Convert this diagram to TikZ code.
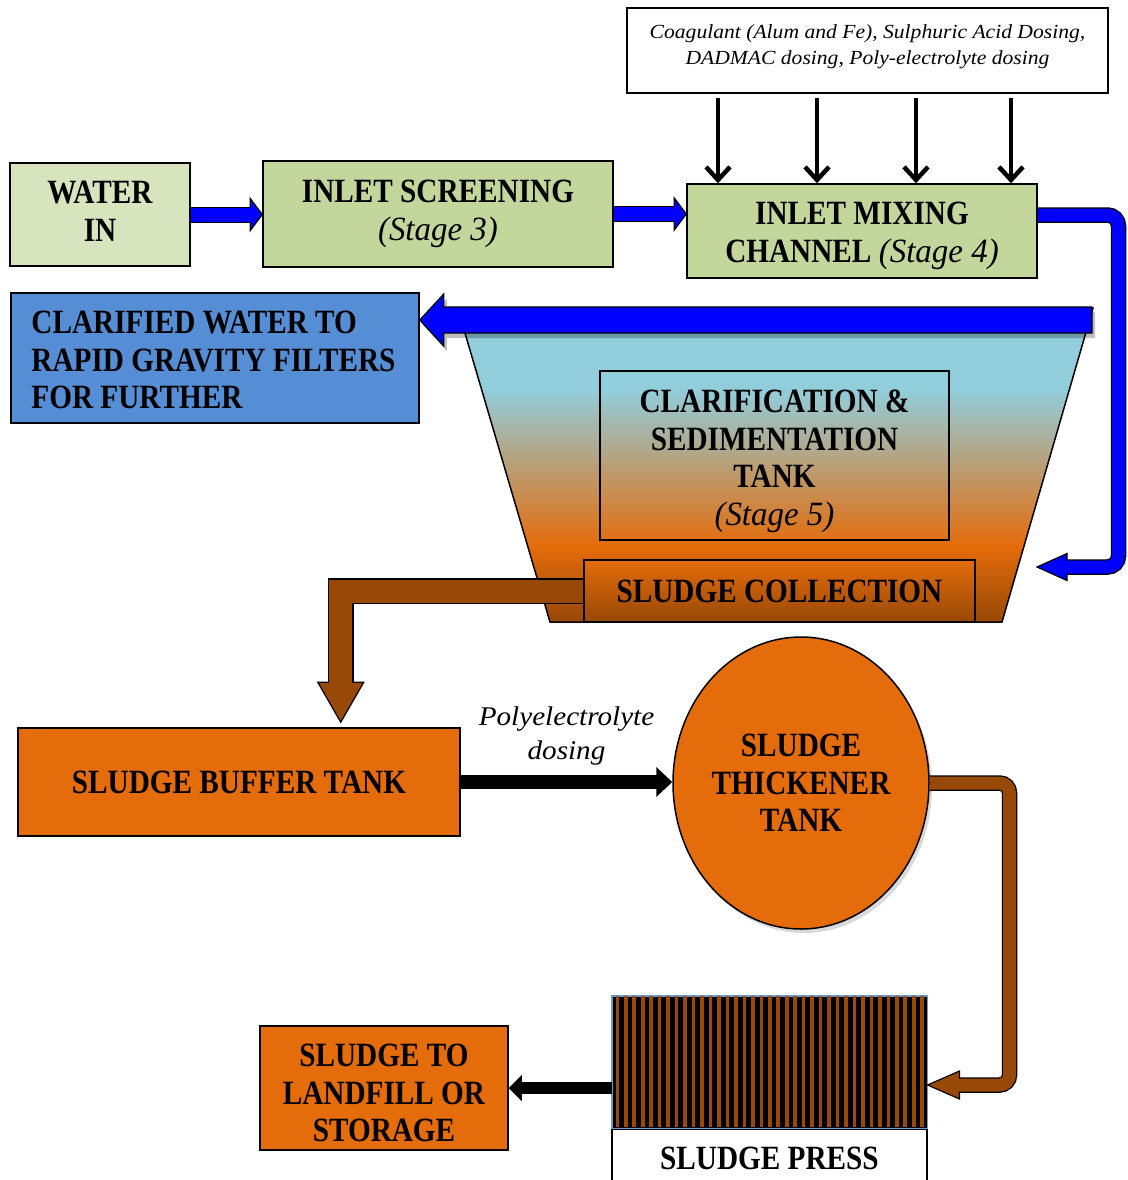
\documentclass[tikz,border=0pt]{standalone}
\usepackage{fontspec}
\setmainfont{Liberation Serif}
\newfontfamily\hb{Liberation Serif}[FakeStretch=0.86]
\newfontfamily\hi{Liberation Serif}[FakeStretch=0.97]
\newfontfamily\li{Liberation Serif}[FakeStretch=1.08]
\usetikzlibrary{arrows.meta,calc,shapes.geometric,shadows}
\definecolor{gA}{HTML}{D7E4BD}
\definecolor{gB}{HTML}{C3D69B}
\definecolor{bbox}{HTML}{558ED5}
\definecolor{org}{HTML}{E46C0A}
\definecolor{brn}{HTML}{984807}
\definecolor{pblue}{HTML}{0000FF}
\definecolor{tblue}{HTML}{92CDDC}
\definecolor{pressb}{HTML}{6C9BD2}
\pgfdeclareverticalshading{tankshade}{100bp}{color(0bp)=(brn); color(25bp)=(brn); color(37bp)=(org); color(62bp)=(tblue); color(100bp)=(tblue)}
\newcommand\HB{\hb\bfseries\fontsize{34}{37.5}\selectfont}
\newcommand\HI{\hi\mdseries\itshape}
\tikzset{
  box/.style={draw=black, line width=1.5pt, inner sep=0pt, align=center, font=\HB},
  txt/.style={inner sep=0pt, align=center, font=\HB},
  thin/.style={draw=black, line width=1.2pt, line join=miter},
}
\begin{document}
\begin{tikzpicture}[x=1pt,y=-1pt]
\useasboundingbox (0,0) rectangle (1127,1180);
\clip (0,0) rectangle (1127,1180);

% dosing box
\node[draw=black, line width=1.2pt, minimum width=481pt, minimum height=85pt, inner sep=0pt] (dose) at (867.5,50.5) {};
\node[font=\li\itshape\fontsize{20}{26}\selectfont, align=center, inner sep=0pt] (dosetxt) at ([yshift=4pt]dose.center) {Coagulant (Alum and Fe), Sulphuric Acid Dosing,\\DADMAC dosing, Poly-electrolyte dosing};

% top row
\node[box, fill=gA, minimum width=180pt, minimum height=103pt] (win) at (100,214.5) {};
\node[txt] (wintxt) at ([yshift=3pt]win.center) {WATER\\IN};
\node[box, fill=gB, minimum width=350pt, minimum height=106pt] (scr) at (438,214) {INLET SCREENING\\{\HI (Stage 3)}};
\node[box, fill=gB, minimum width=350pt, minimum height=94pt] (mix) at (862,231) {};
\node[txt] (mixtxt) at ([yshift=-5pt]mix.center) {INLET MIXING\\CHANNEL {\HI(Stage 4)}};

\foreach \dx in {-149.5,-50.5,48.5,143.5}
  \draw[line width=4.5pt, -{Straight Barb[length=13pt, width=24pt]}] ([xshift=\dx pt, yshift=-4pt]dose.south) coordinate (s) -- (s |- mix.north);

% small blue arrows
\draw[black, line width=16pt] (win.east) -- ($(win.east -| scr.west)+(-12,0)$);
\filldraw[thin, fill=pblue] (win.east -| scr.west) -- ++(-12,-16) -- ++(0,32) -- cycle;
\draw[pblue, line width=14pt] (win.east) -- ($(win.east -| scr.west)+(-10,0)$);

\draw[black, line width=16pt] (scr.east) -- ($(scr.east -| mix.west)+(-12,0)$);
\filldraw[thin, fill=pblue] (scr.east -| mix.west) -- ++(-12,-16) -- ++(0,32) -- cycle;
\draw[pblue, line width=14pt] (scr.east) -- ($(scr.east -| mix.west)+(-10,0)$);

% tank
\shadedraw[shading=tankshade, draw=black, line width=1.5pt] (457.6,308) -- (1093,308) -- (1002,622) -- (550,622) -- cycle;

% clarified water box
\node[box, fill=bbox, minimum width=408pt, minimum height=130pt] (clw) at (215,358) {};
\node[font=\HB, align=left, anchor=west, inner sep=0pt] (clwtxt) at ([xshift=21pt, yshift=-2pt]clw.west) {CLARIFIED WATER TO\\RAPID GRAVITY FILTERS\\FOR FURTHER};

% big blue arrow
\coordinate (bT) at ([yshift=38pt]clw.east);
\fill[black, opacity=0.25] ($(bT)+(3,5)$) -- ++(24,-26) -- ++(0,13) -- ($(1092,307)+(3,5)$) -- ++(0,26) -- ($(bT)+(27,18)$) -- ++(0,13) -- cycle;
\filldraw[thin, fill=pblue] (bT) -- ++(24,-26) -- ++(0,13) -- (1092,307) -- (1092,333) -- ($(bT)+(24,13)$) -- ++(0,13) -- cycle;

% right blue pipe
\coordinate (bin) at (1037,567);
\draw[black, line width=15.5pt, rounded corners=11pt] ([yshift=16pt]mix.east) -- (1118.5,215) -- (1118.5,567) -- ($(bin)+(30,0)$);
\filldraw[thin, fill=pblue] (bin) -- ++(30,-13.5) -- ++(0,27) -- cycle;
\draw[pblue, line width=13pt, rounded corners=11pt] ([yshift=16pt]mix.east) -- (1118.5,215) -- (1118.5,567) -- ($(bin)+(28,0)$);

% clarification box
\node[draw=black, line width=1.5pt, minimum width=349pt, minimum height=169pt, inner sep=0pt] (clar) at (774.5,455.5) {};
\node[txt] (clartxt) at ([yshift=-6pt]clar.center) {CLARIFICATION \&\\SEDIMENTATION\\TANK\\{\HI(Stage 5)}};

% sludge collection
\node[box, top color=org, bottom color=brn, minimum width=391pt, minimum height=62pt] (sc) at (779.5,591) {SLUDGE COLLECTION};

% buffer tank
\node[box, fill=org, minimum width=442pt, minimum height=108pt] (buf) at (239,782) {SLUDGE BUFFER TANK};

% brown pipe sc -> buf
\coordinate (bt) at ($(buf.north west)+(323.5,-5)$);
\draw[black, line width=25.5pt, line join=miter] (sc.west) -| ($(bt)+(0,-40)$);
\filldraw[thin, fill=brn] (bt) -- ++(-23,-40) -- ++(46,0) -- cycle;
\draw[brn, line width=23pt, line join=miter] (sc.west) -| ($(bt)+(0,-37)$);

% thickener
\node[ellipse, draw=black, line width=1.5pt, fill=org, minimum width=256pt, minimum height=292pt, inner sep=0pt, align=center, font=\HB, drop shadow={shadow xshift=3pt, shadow yshift=-4pt, opacity=0.3}] (thk) at (801,783) {SLUDGE\\THICKENER\\TANK};

% black arrow buf -> thk
\draw[black, line width=14pt] (buf.east) -- ($(buf.east -| thk.west)+(-15,0)$);
\fill[black] (buf.east -| thk.west) -- ++(-16,-15) -- ++(0,30) -- cycle;
\node[font=\li\itshape\fontsize{27}{34}\selectfont, align=center, inner sep=0pt] (poly) at ($(buf.east)!0.5!(thk.west)+(0,-47)$) {Polyelectrolyte\\dosing};

% sludge press
\node[draw=pressb, line width=1pt, fill=black, minimum width=315pt, minimum height=132pt, inner sep=0pt] (press) at (769.5,1062) {};
\foreach \i in {0,...,36}
  \fill[brn] ($(press.north west)+(4+8.47*\i,0.6)$) rectangle ++(3.6,130.8);
\draw[pressb, line width=1pt] (press.north west) rectangle (press.south east);
\node[box, fill=white, minimum width=315pt, minimum height=58pt, anchor=north] (plab) at (press.south) {SLUDGE PRESS};

% brown pipe thk -> press
\coordinate (pt) at ([yshift=-23pt]press.east);
\draw[black, line width=15.5pt, rounded corners=10pt] (thk.east) -- (1009.5,783) -- (1009.5,1085) -- ($(pt)+(32,0)$);
\filldraw[thin, fill=brn] (pt) -- ++(32,-14) -- ++(0,28) -- cycle;
\draw[brn, line width=13pt, rounded corners=10pt] (thk.east) -- (1009.5,783) -- (1009.5,1085) -- ($(pt)+(30,0)$);

% landfill
\node[box, fill=org, minimum width=248pt, minimum height=124pt] (land) at (384,1088) {};
\node[txt] (landtxt) at ([yshift=-5pt]land.center) {SLUDGE TO\\LANDFILL OR\\STORAGE};
\draw[black, line width=12pt] (land.east -| press.west) -- ($(land.east)+(13,0)$);
\fill[black] (land.east) -- ++(13,-13) -- ++(0,26) -- cycle;
\end{tikzpicture}
\end{document}
